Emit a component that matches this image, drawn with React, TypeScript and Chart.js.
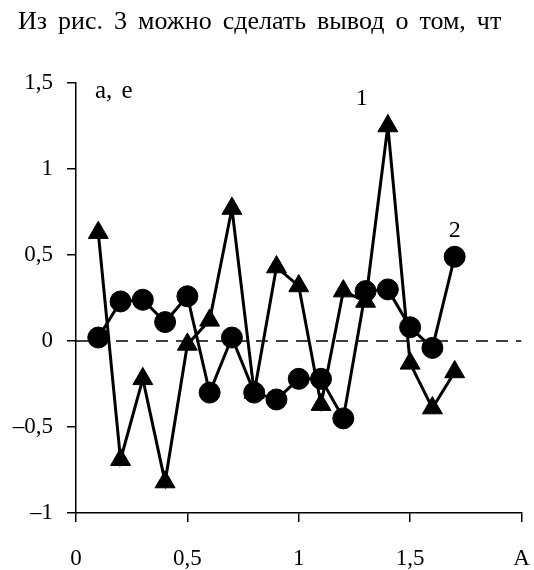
import React, { useEffect, useRef } from "react";
import { Chart, registerables } from "chart.js";

Chart.register(...registerables);

const xValues = [0.1, 0.2, 0.3, 0.4, 0.5, 0.6, 0.7, 0.8, 0.9, 1.0, 1.1, 1.2, 1.3, 1.4, 1.5, 1.6, 1.7];
const series1 = [0.63, -0.69, -0.22, -0.82, -0.02, 0.12, 0.77, -0.3, 0.43, 0.32, -0.37, 0.29, 0.23, 1.25, -0.13, -0.39, -0.18];
const series2 = [0.02, 0.23, 0.24, 0.11, 0.26, -0.3, 0.02, -0.3, -0.34, -0.22, -0.22, -0.45, 0.29, 0.3, 0.08, -0.04, 0.49];
const zeroLineX = [0, 2];
const yTicks = [-1, -0.5, 0, 0.5, 1, 1.5];
const xTicks = [0, 0.5, 1, 1.5, 2];
const xTickLabels = ["0", "0,5", "1", "1,5", "A"];
const headerText = "Из рис. 3 можно сделать вывод о том, чт";
const axisTitle = "a, e";
const seriesLabels = ["1", "2"];

const FONT = "'Liberation Serif', 'Times New Roman', serif";

function fmtY(v: number): string {
  const s = String(Math.abs(v)).replace(".", ",");
  return v < 0 ? "\u2013" + s : s;
}

function setWordSpacing(ctx: any, px: number) {
  try {
    ctx.wordSpacing = px + "px";
  } catch (e) {}
}

const textPlugin = {
  id: "texts",
  afterDraw(chart: any) {
    const ctx = chart.ctx;
    const xs = chart.scales.x;
    const ys = chart.scales.y;
    ctx.save();
    ctx.fillStyle = "#000";
    ctx.textBaseline = "alphabetic";
    ctx.textAlign = "left";
    ctx.font = `26px ${FONT}`;
    setWordSpacing(ctx, 4.5);
    ctx.fillText(headerText, 18, 29);
    ctx.font = `25px ${FONT}`;
    setWordSpacing(ctx, 3);
    ctx.fillText(axisTitle, xs.left + 19, ys.top + 15);
    setWordSpacing(ctx, 0);
    ctx.textAlign = "center";
    ctx.font = `24px ${FONT}`;
    // label "1" near the peak of series 1
    ctx.fillText(seriesLabels[0], xs.getPixelForValue(xValues[13]) - 26, ys.getPixelForValue(series1[13]) - 21);
    // label "2" above last point of series 2
    ctx.fillText(seriesLabels[1], xs.getPixelForValue(xValues[16]), ys.getPixelForValue(series2[16]) - 20);
    ctx.restore();
  },
};

export default function App() {
  const ref = useRef<HTMLCanvasElement>(null);
  useEffect(() => {
    if (!ref.current) return;
    const chart = new Chart(ref.current, {
      type: "scatter",
      data: {
        datasets: [
          {
            label: "zero",
            data: zeroLineX.map((x) => ({ x, y: 0 })),
            showLine: true,
            borderColor: "#000",
            borderWidth: 1.5,
            borderDash: [12, 8],
            pointRadius: 0,
          },
          {
            label: "1",
            data: xValues.map((x, i) => ({ x, y: series1[i] })),
            showLine: true,
            borderColor: "#000",
            backgroundColor: "#000",
            borderWidth: 3,
            pointStyle: "triangle",
            pointRadius: 11.5,
            pointBorderWidth: 1,
          },
          {
            label: "2",
            data: xValues.map((x, i) => ({ x, y: series2[i] })),
            showLine: true,
            borderColor: "#000",
            backgroundColor: "#000",
            borderWidth: 3,
            pointStyle: "circle",
            pointRadius: 10.5,
            pointBorderWidth: 1,
          },
        ],
      },
      options: {
        animation: false,
        responsive: false,
        devicePixelRatio: 1,
        layout: { padding: { top: 83, right: 11, left: 0, bottom: 0 } },
        plugins: { legend: { display: false }, tooltip: { enabled: false } },
        scales: {
          x: {
            type: "linear",
            min: 0,
            max: 2,
            afterFit: (s: any) => {
              s.height = 57;
              s.paddingLeft = 0;
              s.paddingRight = 0;
            },
            afterBuildTicks: (s: any) => {
              s.ticks = xTicks.map((v) => ({ value: v }));
            },
            ticks: {
              autoSkip: false,
              maxRotation: 0,
              padding: 23,
              color: "#000",
              font: { family: FONT, size: 23 },
              callback: (v: any) => xTickLabels[xTicks.indexOf(Number(v))] ?? "",
            },
            grid: { drawOnChartArea: false, drawTicks: true, tickLength: 9, color: "#000", lineWidth: 1.5 },
            border: { display: true, color: "#000", width: 1.5 },
          },
          y: {
            type: "linear",
            min: -1,
            max: 1.5,
            afterFit: (s: any) => {
              s.width = 76;
              s.paddingTop = 0;
              s.paddingBottom = 0;
            },
            afterBuildTicks: (s: any) => {
              s.ticks = yTicks.map((v) => ({ value: v }));
            },
            ticks: {
              autoSkip: false,
              padding: 14,
              color: "#000",
              font: { family: FONT, size: 23 },
              callback: (v: any) => fmtY(Number(v)),
            },
            grid: { drawOnChartArea: false, drawTicks: true, tickLength: 9, color: "#000", lineWidth: 1.5 },
            border: { display: true, color: "#000", width: 1.5 },
          },
        },
      },
      plugins: [textPlugin],
    });
    return () => chart.destroy();
  }, []);
  return (
    <div style={{ position: "absolute", left: 0, top: 0, width: 534, height: 570, background: "#fff" }}>
      <canvas ref={ref} width={534} height={570} style={{ display: "block" }} />
    </div>
  );
}
